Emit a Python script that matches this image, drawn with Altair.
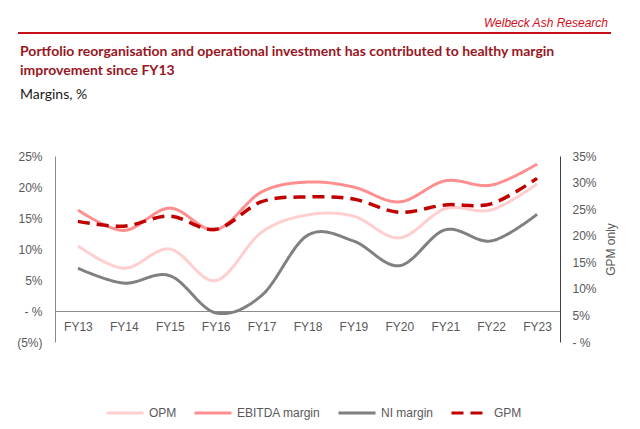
import altair as alt
import pandas as pd

years = ["FY13", "FY14", "FY15", "FY16", "FY17", "FY18", "FY19", "FY20", "FY21", "FY22", "FY23"]
opm = [10.5, 6.9, 10.0, 4.9, 12.7, 15.5, 15.3, 11.8, 16.5, 16.3, 20.5]
ebitda = [16.3, 13.0, 16.6, 13.1, 19.2, 20.8, 20.0, 17.6, 21.0, 20.3, 23.7]
ni = [6.9, 4.5, 5.7, -0.3, 2.5, 12.2, 11.3, 7.3, 13.1, 11.3, 15.6]
gpm = [22.7, 21.8, 23.7, 21.2, 26.4, 27.3, 26.9, 24.4, 25.8, 26.0, 30.8]

series_names = ["OPM", "EBITDA margin", "NI margin", "GPM"]
series_colors = ["#FFCFCF", "#FF8E8E", "#808080", "#C00000"]
series_dash = [[1, 0], [1, 0], [1, 0], [12, 7]]

left_ticks = [-5, 0, 5, 10, 15, 20, 25]
right_ticks = [0, 5, 10, 15, 20, 25, 30, 35]

header = "Welbeck Ash Research"
title_lines = [
    "Portfolio reorganisation and operational investment has contributed to healthy margin",
    "improvement since FY13",
]
subtitle = "Margins, %"
right_axis_title = "GPM only"

W, H = 505, 186
OX, OY = 55, 156  # plot origin on page

rows = []
for name, vals in zip(series_names[:3], [opm, ebitda, ni]):
    for y, v in zip(years, vals):
        rows.append({"year": y, "series": name, "value": v})
left_df = pd.DataFrame(rows)
right_df = pd.DataFrame({"year": years, "series": "GPM", "value": gpm})

label_color = "#595959"
font = "Liberation Sans"

x_enc = alt.X(
    "year:N",
    sort=years,
    scale=alt.Scale(type="point", padding=0.5),
    axis=alt.Axis(
        title=None, ticks=False, tickSize=0, labelPadding=10, labelAngle=0,
        domainColor="#8c8c8c", domainWidth=1, offset=-31,
        labelFont=font, labelFontSize=12, labelColor=label_color, grid=False,
    ),
)

color_enc = alt.Color(
    "series:N",
    scale=alt.Scale(domain=series_names, range=series_colors),
    legend=alt.Legend(
        title=None, orient="none", direction="horizontal",
        legendX=50, legendY=237,
        symbolType="stroke", symbolSize=1369, symbolStrokeWidth=3,
        labelFont=font, labelFontSize=12, labelColor=label_color,
        labelOffset=4, columnPadding=11, labelLimit=200,
    ),
)
dash_enc = alt.StrokeDash(
    "series:N",
    scale=alt.Scale(domain=series_names, range=series_dash),
    legend=None,
)

left = alt.Chart(left_df).mark_line(interpolate="cardinal", strokeWidth=3).encode(
    x=x_enc,
    y=alt.Y(
        "value:Q",
        scale=alt.Scale(domain=[-5, 25], nice=False, zero=False),
        axis=alt.Axis(
            title=None, values=left_ticks, grid=False, ticks=False, tickSize=0,
            labelPadding=13, domainColor="#8c8c8c", domainWidth=1,
            labelFont=font, labelFontSize=12, labelColor=label_color,
            labelExpr="datum.value == 0 ? '- %' : (datum.value < 0 ? '(' + abs(datum.value) + '%)' : datum.value + '%')",
        ),
    ),
    color=color_enc,
    strokeDash=dash_enc,
    order=alt.Order("year:N"),
)

right = alt.Chart(right_df).mark_line(interpolate="cardinal", strokeWidth=3.5).encode(
    x=x_enc,
    y=alt.Y(
        "value:Q",
        scale=alt.Scale(domain=[0, 35], nice=False, zero=False),
        axis=alt.Axis(
            orient="right", title=right_axis_title, values=right_ticks, grid=False,
            ticks=False, tickSize=0, labelPadding=12, domainColor="#404040", domainWidth=1,
            labelFont=font, labelFontSize=12, labelColor=label_color,
            titleFont=font, titleFontSize=12, titleColor=label_color, titleFontWeight="normal",
            titleAngle=270, titleBaseline="top", titlePadding=9,
            labelExpr="datum.value == 0 ? '- %' : datum.value + '%'",
        ),
    ),
    color=color_enc,
    strokeDash=dash_enc,
)

one = pd.DataFrame({"k": [0]})

header_text = alt.Chart(one).mark_text(
    text=header, font=font, fontSize=12, fontStyle="italic", color="#D0101B",
    align="right", baseline="middle",
).encode(x=alt.value(608 - OX), y=alt.value(23 - OY))

header_rule = alt.Chart(one).mark_rule(color="#C8101B", strokeWidth=2).encode(
    x=alt.value(18 - OX), x2=alt.value(611 - OX), y=alt.value(33 - OY)
)

title1 = alt.Chart(one).mark_text(
    text=title_lines[0], font="Lato", fontSize=14, fontWeight="bold", color="#99161E",
    align="left", baseline="middle",
).encode(x=alt.value(20 - OX), y=alt.value(52 - OY))
title2 = alt.Chart(one).mark_text(
    text=title_lines[1], font="Lato", fontSize=14, fontWeight="bold", color="#99161E",
    align="left", baseline="middle",
).encode(x=alt.value(20 - OX), y=alt.value(71 - OY))
sub = alt.Chart(one).mark_text(
    text=subtitle, font="Lato", fontSize=14, color="#1a1a1a",
    align="left", baseline="middle",
).encode(x=alt.value(20 - OX), y=alt.value(95 - OY))

chart = alt.layer(
    left, right, header_text, header_rule, title1, title2, sub
).resolve_scale(y="independent").properties(
    width=W, height=H,
    autosize="none",
    padding={"left": OX - 8, "top": OY - 8, "right": 70, "bottom": 82},
).configure_view(strokeWidth=0)

chart.save("out.html", embed_options={"renderer": "svg", "actions": False})
